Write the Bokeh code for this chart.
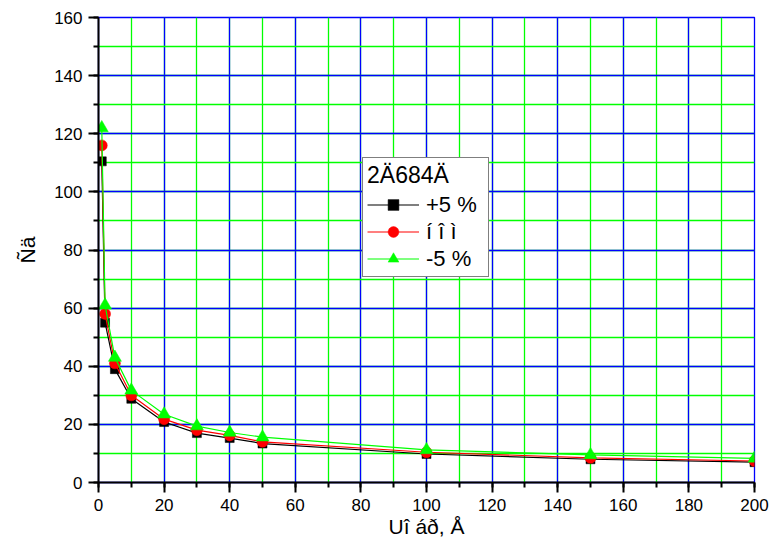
from bokeh.plotting import figure
from bokeh.models import Range1d, SingleIntervalTicker, Legend, LegendItem
from bokeh.embed import file_html
from bokeh.resources import INLINE

# Measured series
x_vals = [1, 2, 5, 10, 20, 30, 40, 50, 100, 150, 200]
plus5 = [110.5, 55, 39, 28.8, 20.8, 17, 15.3, 13.4, 9.8, 8.0, 7.0]
nominal = [116, 58, 41, 30, 21.8, 18, 16.2, 14.0, 10.4, 8.5, 7.4]
minus5 = [122, 61, 43, 31.7, 23.5, 19.4, 17.2, 15.6, 11.2, 9.5, 8.3]

series_labels = ["+5 %", "í î ì", "-5 %"]
legend_title = "2Ä684Ä"
x_label = "Uî áð, Å"
y_label = "Ñä"

FONT = "Liberation Sans"

p = figure(width=772, height=540, output_backend="svg", toolbar_location=None,
           x_range=Range1d(0, 200), y_range=Range1d(0, 160),
           min_border_left=98, min_border_right=18, min_border_top=17,
           min_border_bottom=58)
p.background_fill_color = "white"
p.border_fill_color = "white"
p.outline_line_color = "#0000FF"
p.outline_line_width = 1.3

p.xaxis.ticker = SingleIntervalTicker(interval=20, num_minor_ticks=2)
p.yaxis.ticker = SingleIntervalTicker(interval=20, num_minor_ticks=2)

for ax in (p.xaxis[0], p.yaxis[0]):
    ax.axis_line_color = "black"
    ax.axis_line_width = 2
    ax.major_tick_line_color = "black"
    ax.major_tick_line_width = 2
    ax.minor_tick_line_color = "black"
    ax.minor_tick_line_width = 2
    ax.major_tick_in = 0
    ax.major_tick_out = 10
    ax.minor_tick_in = 0
    ax.minor_tick_out = 5
    ax.major_label_text_font = FONT
    ax.major_label_text_font_size = "17px"
    ax.major_label_text_color = "black"
    ax.major_label_standoff = 6
    ax.axis_label_text_font = FONT
    ax.axis_label_text_font_size = "21px"
    ax.axis_label_text_font_style = "normal"
    ax.axis_label_text_color = "black"

p.xaxis.axis_label = x_label
p.yaxis.axis_label = y_label
p.xaxis.axis_label_standoff = 1
p.yaxis.axis_label_standoff = 12

for g in (p.xgrid[0], p.ygrid[0]):
    g.grid_line_color = "#0000FF"
    g.grid_line_width = 1.3
    g.minor_grid_line_color = "#00FF00"
    g.minor_grid_line_width = 1.3
    g.level = "underlay"

items = []
specs = [
    (plus5, "black", "square", 9),
    (nominal, "#FF0000", "circle", 11),
    (minus5, "#00FF00", "triangle", 13),
]
for (ys, color, marker, size), label in zip(specs, series_labels):
    ln = p.line(x_vals, ys, line_color=color, line_width=1.2)
    sc = p.scatter(x_vals, ys, marker=marker, size=size, fill_color=color,
                   line_color=color, line_width=0.5)
    items.append(LegendItem(label=label, renderers=[ln, sc]))

legend = Legend(items=items, title=legend_title, location=(264, 205))
legend.title_text_font = FONT
legend.title_text_font_size = "23px"
legend.title_text_font_style = "normal"
legend.title_text_color = "black"
legend.title_standoff = 2
legend.label_text_font = FONT
legend.label_text_font_size = "22px"
legend.label_text_color = "black"
legend.border_line_color = "black"
legend.border_line_width = 1.5
legend.background_fill_color = "white"
legend.background_fill_alpha = 1.0
legend.padding = 4
legend.margin = 0
legend.spacing = 0
legend.glyph_width = 52
legend.glyph_height = 27
legend.label_height = 27
legend.label_width = 58
legend.label_standoff = 7
p.add_layout(legend)

open("out.html", "w").write(file_html(p, INLINE))
